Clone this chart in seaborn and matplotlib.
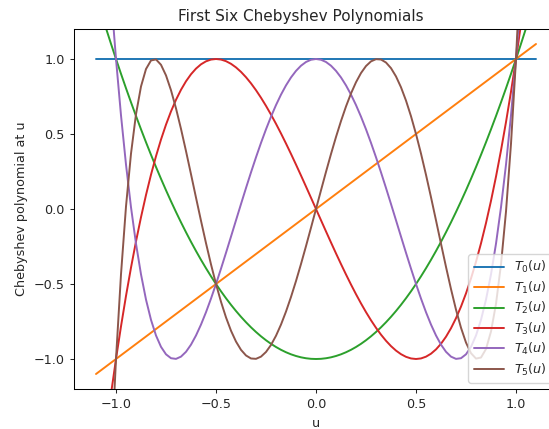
import pandas as pd
import matplotlib
matplotlib.use('Agg')
import matplotlib.pyplot as plt
import seaborn as sns

# values, u from -1.1 to 1.1 in steps of 0.025
u = [-1.1, -1.075, -1.05, -1.025, -1.0, -0.975, -0.95, -0.925, -0.9, -0.875, -0.85,
     -0.825, -0.8, -0.775, -0.75, -0.725, -0.7, -0.675, -0.65, -0.625, -0.6, -0.575,
     -0.55, -0.525, -0.5, -0.475, -0.45, -0.425, -0.4, -0.375, -0.35, -0.325, -0.3,
     -0.275, -0.25, -0.225, -0.2, -0.175, -0.15, -0.125, -0.1, -0.075, -0.05, -0.025,
     0.0, 0.025, 0.05, 0.075, 0.1, 0.125, 0.15, 0.175, 0.2, 0.225, 0.25, 0.275, 0.3,
     0.325, 0.35, 0.375, 0.4, 0.425, 0.45, 0.475, 0.5, 0.525, 0.55, 0.575, 0.6, 0.625,
     0.65, 0.675, 0.7, 0.725, 0.75, 0.775, 0.8, 0.825, 0.85, 0.875, 0.9, 0.925, 0.95,
     0.975, 1.0, 1.025, 1.05, 1.075, 1.1]

# the two straight lines only need their end points
u_line = [-1.1, 1.1]
t0 = [1.0, 1.0]
t1 = [-1.1, 1.1]

t2 = [1.42, 1.3113, 1.205, 1.1013, 1.0, 0.9013, 0.805, 0.7113, 0.62, 0.5313, 0.445,
      0.3613, 0.28, 0.2013, 0.125, 0.0513, -0.02, -0.0888, -0.155, -0.2188, -0.28, -0.3388,
      -0.395, -0.4488, -0.5, -0.5488, -0.595, -0.6388, -0.68, -0.7188, -0.755, -0.7888, -0.82,
      -0.8488, -0.875, -0.8988, -0.92, -0.9388, -0.955, -0.9688, -0.98, -0.9888, -0.995, -0.9988,
      -1.0, -0.9988, -0.995, -0.9888, -0.98, -0.9688, -0.955, -0.9388, -0.92, -0.8988, -0.875,
      -0.8488, -0.82, -0.7888, -0.755, -0.7188, -0.68, -0.6388, -0.595, -0.5488, -0.5, -0.4488,
      -0.395, -0.3388, -0.28, -0.2188, -0.155, -0.0888, -0.02, 0.0513, 0.125, 0.2013, 0.28,
      0.3613, 0.445, 0.5313, 0.62, 0.7113, 0.805, 0.9013, 1.0, 1.1013, 1.205, 1.3113, 1.42]
t3 = [-2.024, -1.7442, -1.4805, -1.2326, -1.0, -0.7824, -0.5795, -0.3908, -0.216, -0.0547, 0.0935,
      0.2289, 0.352, 0.4631, 0.5625, 0.6507, 0.728, 0.7948, 0.8515, 0.8984, 0.936, 0.9646,
      0.9845, 0.9962, 1.0, 0.9963, 0.9855, 0.9679, 0.944, 0.9141, 0.8785, 0.8377, 0.792,
      0.7418, 0.6875, 0.6294, 0.568, 0.5036, 0.4365, 0.3672, 0.296, 0.2233, 0.1495, 0.0749,
      0.0, -0.0749, -0.1495, -0.2233, -0.296, -0.3672, -0.4365, -0.5036, -0.568, -0.6294, -0.6875,
      -0.7418, -0.792, -0.8377, -0.8785, -0.9141, -0.944, -0.9679, -0.9855, -0.9963, -1.0, -0.9962,
      -0.9845, -0.9646, -0.936, -0.8984, -0.8515, -0.7948, -0.728, -0.6507, -0.5625, -0.4631, -0.352,
      -0.2289, -0.0935, 0.0547, 0.216, 0.3908, 0.5795, 0.7824, 1.0, 1.2326, 1.4805, 1.7442, 2.024]
t4 = [3.0328, 2.4388, 1.9041, 1.4255, 1.0, 0.6245, 0.2961, 0.0118, -0.2312, -0.4355, -0.604,
      -0.739, -0.8432, -0.919, -0.9688, -0.9947, -0.9992, -0.9842, -0.952, -0.9043, -0.8432, -0.7705,
      -0.688, -0.5972, -0.5, -0.3977, -0.292, -0.184, -0.0752, 0.0332, 0.1401, 0.2443, 0.3448,
      0.4408, 0.5313, 0.6155, 0.6928, 0.7625, 0.8241, 0.877, 0.9208, 0.9553, 0.9801, 0.995,
      1.0, 0.995, 0.9801, 0.9553, 0.9208, 0.877, 0.8241, 0.7625, 0.6928, 0.6155, 0.5313,
      0.4408, 0.3448, 0.2443, 0.1401, 0.0332, -0.0752, -0.184, -0.292, -0.3977, -0.5, -0.5972,
      -0.688, -0.7705, -0.8432, -0.9043, -0.952, -0.9842, -0.9992, -0.9947, -0.9688, -0.919, -0.8432,
      -0.739, -0.604, -0.4355, -0.2312, 0.0118, 0.2961, 0.6245, 1.0, 1.4255, 1.9041, 2.4388, 3.0328]
t5 = [-4.6482, -3.4991, -2.518, -1.6897, -1.0, -0.4353, 0.017, 0.3691, 0.6322, 0.8169, 0.9332,
      0.9904, 0.9971, 0.9614, 0.8906, 0.7917, 0.6709, 0.5339, 0.386, 0.2319, 0.0758, -0.0785,
      -0.2278, -0.3691, -0.5, -0.6185, -0.7227, -0.8115, -0.8838, -0.939, -0.9765, -0.9965, -0.9989,
      -0.9842, -0.9531, -0.9064, -0.8451, -0.7704, -0.6837, -0.5864, -0.4802, -0.3666, -0.2475, -0.1247,
      0.0, 0.1247, 0.2475, 0.3666, 0.4802, 0.5864, 0.6837, 0.7704, 0.8451, 0.9064, 0.9531,
      0.9842, 0.9989, 0.9965, 0.9765, 0.939, 0.8838, 0.8115, 0.7227, 0.6185, 0.5, 0.3691,
      0.2278, 0.0785, -0.0758, -0.2319, -0.386, -0.5339, -0.6709, -0.7917, -0.8906, -0.9614, -0.9971,
      -0.9904, -0.9332, -0.8169, -0.6322, -0.3691, -0.017, 0.4353, 1.0, 1.6897, 2.518, 3.4991, 4.6482]

labels = ['$T_0(u)$', '$T_1(u)$', '$T_2(u)$', '$T_3(u)$', '$T_4(u)$', '$T_5(u)$']
xs = [u_line, u_line, u, u, u, u]
series = [t0, t1, t2, t3, t4, t5]

frames = []
for lab, x, vals in zip(labels, xs, series):
    frames.append(pd.DataFrame({'u': x, 'T': vals, 'poly': lab}))
df = pd.concat(frames, ignore_index=True)

sns.set_style('white')
plt.rcParams['font.family'] = ['DejaVu Sans']
plt.rcParams['axes.edgecolor'] = 'black'
plt.rcParams['axes.linewidth'] = 0.75
plt.rcParams['xtick.bottom'] = True
plt.rcParams['ytick.left'] = True
plt.rcParams['xtick.major.size'] = 3.2
plt.rcParams['ytick.major.size'] = 3.2
plt.rcParams['xtick.major.width'] = 0.75
plt.rcParams['ytick.major.width'] = 0.75

fs = 9.2

fig = plt.figure(figsize=(5.49, 4.29), dpi=100)
ax = fig.add_axes([74 / 549, 40 / 429, 484 / 549, 360 / 429])

sns.lineplot(data=df, x='u', y='T', hue='poly', palette='tab10', sort=False,
             estimator=None, linewidth=1.4, ax=ax)

ax.set_xlim(-1.21, 1.21)
ax.set_ylim(-1.2, 1.2)
ax.set_xticks([-1.0, -0.5, 0.0, 0.5, 1.0])
ax.set_yticks([-1.0, -0.5, 0.0, 0.5, 1.0])
ax.tick_params(labelsize=fs)
ax.set_xlabel('u', fontsize=fs)
ax.set_ylabel('Chebyshev polynomial at u', fontsize=fs)
ax.set_title('First Six Chebyshev Polynomials', fontsize=11, x=0.469)
ax.legend(loc='lower right', title=None, fontsize=fs, handlelength=2.35,
          labelspacing=0.34, framealpha=0.8)

fig.savefig('out.png', dpi=100)
plt.close()
